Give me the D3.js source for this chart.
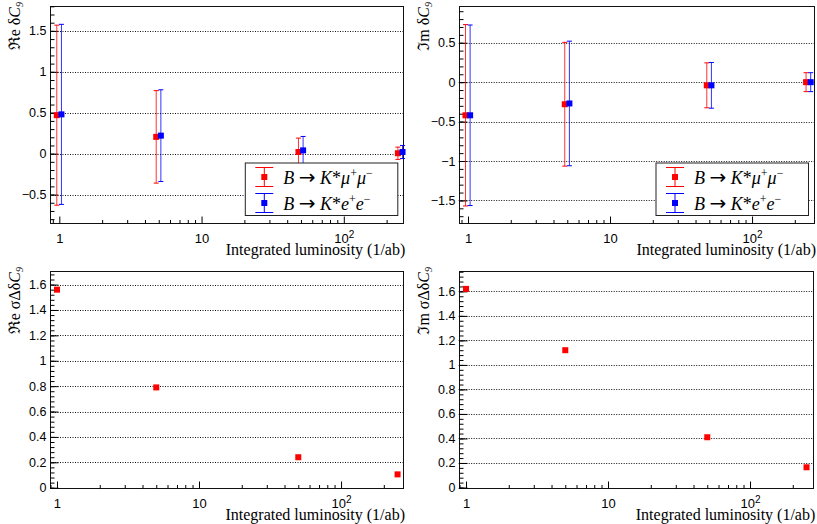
<!DOCTYPE html>
<html><head><meta charset="utf-8">
<script src="https://cdn.jsdelivr.net/npm/d3@7"></script>
<style>
body{margin:0;background:#fff;}
svg{display:block;}
.serif{font-family:"Liberation Serif","Times New Roman",Times,"DejaVu Serif",serif;}
.sans{font-family:"Liberation Sans",Arial,Helvetica,"DejaVu Sans",sans-serif;}
.sym{font-family:"DejaVu Sans",sans-serif;}
</style></head>
<body>
<svg id="c" width="817" height="524"></svg>
<script>
// ---------------- data ----------------
const lumi = [1, 5, 50, 250];
const reMuVal = [0.47, 0.205, 0.02, 0.005];
const reMuErr = [1.10, 0.565, 0.17, 0.075];
const reEeVal = [0.48, 0.22, 0.04, 0.02];
const reEeErr = [1.10, 0.56, 0.17, 0.08];
const imMuVal = [-0.42, -0.28, -0.04, 0.0];
const imMuErr = [1.15, 0.785, 0.285, 0.12];
const imEeVal = [-0.42, -0.27, -0.04, 0.0];
const imEeErr = [1.145, 0.79, 0.29, 0.12];
const reSigma = [1.56, 0.79, 0.24, 0.105];
const imSigma = [1.62, 1.12, 0.41, 0.165];
const legendLabels = ["mu", "e"];
const xTickLabels = ["1", "10", "10^2"];
const xTitle = "Integrated luminosity (1/ab)";

// ---------------- layout ----------------
const svg = d3.select("#c");
const RED = "#ff0000", BLUE = "#0000ff";
const panels = [
  {x0:50, x1:403.3, y0:6, y1:223.3, xDom:[0.86,262], yDom:[-0.851,1.804],
   major:[-0.5,1.5,0.5], minor:0.1, title:["ℜe"," δ"], legend:true,
   series:[{v:reMuVal,e:reMuErr,c:RED,s:0.96},{v:reEeVal,e:reEeErr,c:BLUE,s:1.035}]},
  {x0:458.7, x1:814, y0:6, y1:223.3, xDom:[0.86,273], yDom:[-1.79,0.966],
   major:[-1.5,0.5,0.5], minor:0.1, title:["ℑm"," δ"], legend:true,
   series:[{v:imMuVal,e:imMuErr,c:RED,s:0.96},{v:imEeVal,e:imEeErr,c:BLUE,s:1.035}]},
  {x0:50, x1:403, y0:271, y1:487.7, xDom:[0.893,273], yDom:[0,1.707],
   major:[0,1.6,0.2], minor:0.04, title:["ℜe"," σΔδ"], legend:false,
   series:[{v:reSigma,e:null,c:RED,s:1}]},
  {x0:458.7, x1:813.3, y0:271, y1:487.5, xDom:[0.888,279], yDom:[0,1.766],
   major:[0,1.6,0.2], minor:0.04, title:["ℑm"," σΔδ"], legend:false,
   series:[{v:imSigma,e:null,c:RED,s:1}]}
];

const fmt = v => d3.format("~g")(+v.toFixed(2));

panels.forEach(p => {
  const g = svg.append("g");
  const x = d3.scaleLog().domain(p.xDom).range([p.x0, p.x1]);
  const y = d3.scaleLinear().domain(p.yDom).range([p.y1, p.y0]);

  const majors = d3.range(p.major[0], p.major[1] + 1e-9, p.major[2]).map(v => +v.toFixed(3));
  const minors = d3.range(Math.ceil(p.yDom[0]/p.minor - 1e-9)*p.minor, p.yDom[1], p.minor)
     .map(v => +v.toFixed(3)).filter(v => v >= p.yDom[0] && v <= p.yDom[1]);

  // grid
  g.append("g").selectAll("line").data(majors).join("line")
    .attr("x1", p.x0).attr("x2", p.x1)
    .attr("y1", d => Math.round(y(d)) + 0.5).attr("y2", d => Math.round(y(d)) + 0.5)
    .attr("stroke", "#111").attr("stroke-width", 1).attr("stroke-dasharray", "1,1.5");

  // frame
  g.append("rect").attr("x", Math.round(p.x0)+0.5).attr("y", Math.round(p.y0)+0.5)
    .attr("width", Math.round(p.x1) - Math.round(p.x0)).attr("height", Math.round(p.y1) - Math.round(p.y0))
    .attr("fill", "none").attr("stroke", "#111").attr("stroke-width", 1);

  // y axis (ticks inside)
  const yMin = g.append("g").attr("transform", `translate(${Math.round(p.x0)+0.5},0)`)
    .call(d3.axisLeft(y).tickValues(minors).tickSize(-4).tickFormat(""));
  const yMaj = g.append("g").attr("transform", `translate(${Math.round(p.x0)+0.5},0)`)
    .call(d3.axisLeft(y).tickValues(majors).tickSize(-8).tickPadding(4).tickFormat(fmt));
  [yMin, yMaj].forEach(a => { a.select(".domain").remove(); a.selectAll("line").attr("stroke","#000"); a.attr("font-family", null).attr("font-size", null); });
  yMaj.selectAll("text").attr("class", "sans").attr("font-size", 12.5).attr("fill", "#000");

  // x axis (log, ticks inside)
  const xMajors = [1, 10, 100];
  const xMinors = [];
  [0.1, 1, 10, 100].forEach(dec => { for (let k = 2; k <= 9; k++) xMinors.push(+(k*dec).toFixed(3)); });
  const xMinorsIn = xMinors.filter(v => v >= p.xDom[0] && v <= p.xDom[1]);
  const xMin = g.append("g").attr("transform", `translate(0,${Math.round(p.y1)+0.5})`)
    .call(d3.axisBottom(x).tickValues(xMinorsIn).tickSize(-3.5).tickFormat(""));
  const xMaj = g.append("g").attr("transform", `translate(0,${Math.round(p.y1)+0.5})`)
    .call(d3.axisBottom(x).tickValues(xMajors).tickSize(-7).tickPadding(10).tickFormat((d,i) => xTickLabels[i]));
  [xMin, xMaj].forEach(a => { a.select(".domain").remove(); a.selectAll("line").attr("stroke","#000"); a.attr("font-family", null).attr("font-size", null); });
  xMaj.selectAll("text").attr("class", "sans").attr("font-size", 13).attr("fill", "#000")
    .each(function(d, i) {
      const lab = xTickLabels[i];
      if (lab.includes("^")) {
        const [b, e] = lab.split("^");
        const t = d3.select(this).text(null);
        t.append("tspan").text(b);
        t.append("tspan").attr("dy", -5).attr("font-size", 10).text(e);
      }
    });

  // x title
  g.append("text").attr("class", "serif").attr("x", p.x1 + 2).attr("y", p.y1 + 32).attr("text-anchor", "end")
    .attr("font-size", 16).attr("fill", "#000").text(xTitle);

  // y title
  const yt = g.append("text").attr("class", "serif")
    .attr("transform", `translate(${p.x0 - 30},${p.y0 - 4}) rotate(-90)`)
    .attr("text-anchor", "end").attr("font-size", 16).attr("fill", "#000");
  yt.append("tspan").text(p.title[0]);
  yt.append("tspan").text(p.title[1]);
  yt.append("tspan").attr("font-style", "italic").text("C");
  yt.append("tspan").attr("dy", 3).attr("font-size", 10).attr("font-style", "italic").text("9");

  // data
  p.series.forEach(s => {
    const sg = g.append("g");
    lumi.forEach((L, i) => {
      const cx = x(L * s.s), cy = y(s.v[i]);
      if (s.e) {
        const yt1 = y(s.v[i] + s.e[i]), yb1 = y(s.v[i] - s.e[i]);
        sg.append("line").attr("x1", cx).attr("x2", cx).attr("y1", yt1).attr("y2", yb1)
          .attr("stroke", s.c).attr("stroke-width", 1).attr("stroke-opacity", 0.8);
        [yt1, yb1].forEach(yy => sg.append("line").attr("x1", cx - 2.5).attr("x2", cx + 2.5)
          .attr("y1", yy).attr("y2", yy).attr("stroke", s.c).attr("stroke-width", 1));
      }
      sg.append("rect").attr("x", cx - 3).attr("y", cy - 3).attr("width", 6).attr("height", 6)
        .attr("fill", s.c);
    });
  });

  // legend
  if (p.legend) {
    const lx0 = p.x1 - 158, lx1 = p.x1 - 5.5, ly0 = 163, ly1 = 215.5;
    const lg = g.append("g");
    lg.append("rect").attr("x", lx0).attr("y", ly0).attr("width", lx1 - lx0).attr("height", ly1 - ly0)
      .attr("fill", "#fff").attr("stroke", "#222").attr("stroke-width", 1);
    const entries = [{c:RED, t:legendLabels[0]}, {c:BLUE, t:legendLabels[1]}];
    entries.forEach((en, k) => {
      const cy = ly0 + 14 + k * 26, sx = lx0 + 19;
      lg.append("line").attr("x1", sx).attr("x2", sx).attr("y1", cy - 9.5).attr("y2", cy + 9.5)
        .attr("stroke", en.c).attr("stroke-width", 1);
      [cy - 9.5, cy + 9.5].forEach(yy => lg.append("line").attr("x1", sx - 9).attr("x2", sx + 9)
        .attr("y1", yy).attr("y2", yy).attr("stroke", en.c).attr("stroke-width", 1));
      lg.append("rect").attr("x", sx - 3).attr("y", cy - 3).attr("width", 6).attr("height", 6).attr("fill", en.c);
      const tx = lg.append("text").attr("class", "serif").attr("x", lx0 + 38).attr("y", cy + 6.5)
        .attr("font-size", 18).attr("fill", "#000");
      tx.append("tspan").attr("font-style", "italic").text("B");
      tx.append("tspan").text(" ");
      tx.append("tspan").attr("class", "sym").attr("font-size", 20).text("→");
      tx.append("tspan").text(" ");
      tx.append("tspan").attr("font-style", "italic").text("K");
      tx.append("tspan").text("*");
      const lep = en.t === "mu" ? "μ" : "e";
      tx.append("tspan").attr("font-style", "italic").text(lep);
      tx.append("tspan").attr("dy", -7).attr("font-size", 12).text("+");
      tx.append("tspan").attr("dy", 7).attr("font-style", "italic").text(lep);
      tx.append("tspan").attr("dy", -7).attr("font-size", 12).text("−");
    });
  }
});
</script>
</body></html>
